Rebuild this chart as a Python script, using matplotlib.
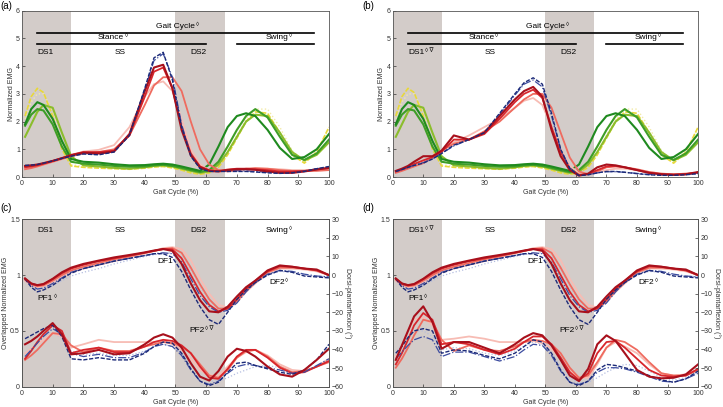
import matplotlib
matplotlib.use("Agg")
import matplotlib.pyplot as plt

plt.rcParams["font.family"] = ["Liberation Sans", "DejaVu Sans"]

# gait cycle sample positions (%)
gait = [1, 3, 5, 7, 10, 13, 16, 20, 25, 30, 35, 40, 43, 46, 49, 52, 55, 58, 61, 64,
        67, 70, 73, 76, 80, 84, 88, 92, 96, 100]

# (a)/(b) green group (same in both panels)
green_dark = [1.9, 2.45, 2.7, 2.6, 2.1, 1.3, 0.65, 0.55, 0.52, 0.46, 0.42, 0.43, 0.46, 0.48, 0.45,
              0.38, 0.3, 0.22, 0.45, 1.1, 1.8, 2.2, 2.3, 2.2, 1.7, 1.05, 0.65, 0.72, 1.0, 1.55]
green_mid = [1.85, 2.25, 2.45, 2.4, 1.9, 1.1, 0.55, 0.48, 0.45, 0.4, 0.37, 0.38, 0.42, 0.44, 0.4,
             0.33, 0.25, 0.18, 0.25, 0.55, 1.1, 1.7, 2.2, 2.45, 2.15, 1.45, 0.8, 0.62, 0.85, 1.35]
green_light = [1.45, 1.9, 2.35, 2.6, 2.5, 1.6, 0.75, 0.42, 0.38, 0.33, 0.3, 0.35, 0.4, 0.42, 0.38,
               0.3, 0.22, 0.15, 0.2, 0.45, 0.9, 1.45, 2.0, 2.25, 2.2, 1.6, 0.9, 0.6, 0.8, 1.25]
yellow = [2.2, 2.9, 3.2, 3.05, 2.2, 1.0, 0.4, 0.35, 0.32, 0.3, 0.28, 0.32, 0.36, 0.38, 0.33,
          0.25, 0.15, 0.1, 0.15, 0.35, 0.8, 1.4, 2.0, 2.35, 2.3, 1.6, 0.8, 0.5, 0.9, 1.8]
yellow_light = [2.1, 2.7, 3.0, 3.0, 2.4, 1.2, 0.45, 0.38, 0.35, 0.32, 0.3, 0.33, 0.37, 0.38, 0.34,
                0.26, 0.18, 0.12, 0.16, 0.4, 0.9, 1.5, 2.1, 2.45, 2.45, 1.8, 0.95, 0.55, 0.95, 1.75]

# (a) red/blue group
a_darkred = [0.4, 0.42, 0.45, 0.5, 0.58, 0.68, 0.78, 0.88, 0.85, 0.92, 1.55, 3.1, 3.95, 4.05, 3.2,
             1.7, 0.78, 0.35, 0.22, 0.2, 0.25, 0.28, 0.28, 0.26, 0.2, 0.15, 0.15, 0.2, 0.27, 0.33]
a_red = [0.35, 0.38, 0.42, 0.48, 0.58, 0.68, 0.8, 0.9, 0.9, 0.95, 1.5, 2.9, 3.8, 3.95, 3.2,
         1.8, 0.85, 0.38, 0.25, 0.22, 0.27, 0.3, 0.3, 0.28, 0.25, 0.2, 0.2, 0.22, 0.28, 0.32]
a_salmon = [0.28, 0.32, 0.38, 0.45, 0.55, 0.65, 0.75, 0.85, 0.9, 1.0, 1.5, 2.6, 3.3, 3.6, 3.6,
            3.1, 2.0, 1.0, 0.45, 0.25, 0.2, 0.25, 0.3, 0.32, 0.3, 0.25, 0.22, 0.22, 0.22, 0.25]
a_pink = [0.3, 0.33, 0.38, 0.45, 0.55, 0.65, 0.78, 0.92, 0.98, 1.15, 1.8, 2.9, 3.35, 3.45, 3.1,
          2.1, 1.0, 0.45, 0.25, 0.2, 0.22, 0.25, 0.28, 0.3, 0.3, 0.28, 0.25, 0.25, 0.25, 0.28]
a_navy = [0.42, 0.43, 0.45, 0.5, 0.58, 0.67, 0.75, 0.83, 0.8, 0.9, 1.5, 3.2, 4.3, 4.5, 3.5,
          1.8, 0.75, 0.3, 0.2, 0.2, 0.2, 0.2, 0.2, 0.18, 0.15, 0.13, 0.15, 0.2, 0.3, 0.38]
a_blue = [0.4, 0.42, 0.45, 0.5, 0.58, 0.67, 0.76, 0.85, 0.82, 0.92, 1.55, 3.15, 4.2, 4.45, 3.6,
          1.9, 0.8, 0.33, 0.22, 0.2, 0.22, 0.22, 0.22, 0.2, 0.17, 0.15, 0.16, 0.22, 0.3, 0.36]

# (b) red/blue group
b_darkred = [0.22, 0.3, 0.4, 0.55, 0.75, 0.75, 0.95, 1.5, 1.35, 1.6, 2.2, 2.8, 3.1, 3.25, 2.9,
             1.7, 0.75, 0.25, 0.05, 0.12, 0.35, 0.45, 0.42, 0.35, 0.25, 0.15, 0.1, 0.08, 0.1, 0.18]
b_red = [0.2, 0.27, 0.35, 0.47, 0.6, 0.72, 0.9, 1.35, 1.35, 1.55, 2.1, 2.7, 3.0, 3.15, 2.85,
         1.8, 0.9, 0.3, 0.08, 0.1, 0.25, 0.38, 0.4, 0.35, 0.25, 0.15, 0.1, 0.08, 0.1, 0.16]
b_salmon = [0.15, 0.22, 0.3, 0.38, 0.5, 0.7, 0.95, 1.2, 1.35, 1.65, 2.0, 2.5, 2.8, 3.0, 3.0,
            2.5, 1.6, 0.7, 0.2, 0.1, 0.2, 0.35, 0.38, 0.35, 0.28, 0.18, 0.12, 0.1, 0.12, 0.15]
b_pink = [0.18, 0.26, 0.35, 0.43, 0.55, 0.75, 0.95, 1.25, 1.5, 1.8, 2.1, 2.5, 2.75, 2.85, 2.6,
          1.8, 1.0, 0.4, 0.15, 0.1, 0.15, 0.25, 0.3, 0.3, 0.25, 0.18, 0.12, 0.1, 0.12, 0.15]
b_navy = [0.2, 0.27, 0.35, 0.42, 0.5, 0.65, 0.85, 1.15, 1.35, 1.6, 2.3, 3.0, 3.4, 3.58, 3.35,
          2.3, 1.0, 0.3, 0.05, 0.08, 0.15, 0.2, 0.2, 0.17, 0.12, 0.08, 0.06, 0.06, 0.08, 0.12]
b_blue = [0.2, 0.27, 0.35, 0.42, 0.52, 0.65, 0.85, 1.12, 1.35, 1.6, 2.25, 2.95, 3.35, 3.5, 3.25,
          2.2, 1.0, 0.32, 0.06, 0.08, 0.15, 0.19, 0.19, 0.17, 0.13, 0.09, 0.07, 0.07, 0.09, 0.13]

# (c)/(d) ankle angle (deg, right axis) - same in both panels
ang_darkred = [-1.8, -4.5, -5.4, -4.8, -2.0, 1.5, 4.0, 6.0, 7.8, 9.5, 10.8, 12.2, 13.2, 14.0, 13.0,
               6.0, -4.5, -13.5, -19.5, -20.0, -17.0, -11.5, -6.5, -3.0, 2.5, 5.2, 4.5, 3.5, 3.0, 0.0]
ang_red = [-2.0, -4.5, -5.5, -5.0, -2.2, 1.0, 3.5, 5.5, 7.5, 9.0, 10.5, 12.0, 13.0, 14.0, 13.8,
           9.0, 0.0, -9.0, -16.0, -19.5, -18.0, -13.0, -7.5, -3.0, 2.0, 4.8, 4.5, 3.5, 2.5, 0.0]
ang_salmon = [-2.5, -5.0, -6.0, -5.5, -3.0, 0.0, 2.5, 4.5, 6.5, 8.5, 10.0, 12.0, 13.0, 14.0, 14.5,
              12.0, 4.0, -5.0, -13.0, -18.0, -18.0, -14.0, -8.5, -4.0, 1.5, 4.0, 4.0, 3.5, 2.5, 0.0]
ang_pink = [-3.0, -5.5, -6.5, -6.0, -4.0, -1.0, 1.5, 3.5, 5.5, 7.5, 9.5, 11.5, 13.0, 14.5, 15.0,
            14.0, 8.0, -2.0, -10.0, -16.0, -17.5, -14.5, -9.0, -4.5, 1.0, 3.5, 3.5, 3.0, 2.0, 0.0]
ang_navy = [-2.0, -6.5, -9.0, -8.0, -5.5, -2.0, 1.0, 3.5, 5.5, 7.5, 9.0, 10.5, 11.5, 11.5, 9.5,
            2.0, -8.0, -17.0, -24.0, -26.5, -20.0, -13.0, -8.0, -4.0, 0.0, 2.5, 1.5, -0.5, -1.0, -1.5]
ang_blue = [-2.0, -5.5, -7.5, -7.0, -4.5, -1.5, 1.5, 3.5, 5.5, 7.5, 9.0, 10.5, 11.5, 12.0, 11.5,
            7.0, -2.0, -11.0, -17.0, -20.0, -19.0, -15.0, -9.0, -4.0, 0.5, 2.5, 2.0, 0.5, -0.5, -1.0]
ang_lightblue = [-2.0, -5.0, -7.0, -7.0, -5.5, -3.0, -0.5, 1.5, 3.5, 6.0, 8.0, 10.0, 11.0, 11.5, 12.0,
                 10.0, 3.0, -6.0, -14.0, -18.0, -18.0, -14.0, -8.5, -4.0, 0.0, 2.0, 1.5, 0.0, -0.5, -1.0]

# (c) overlapped EMG
c_darkred = [0.38, 0.41, 0.45, 0.5, 0.57, 0.47, 0.29, 0.3, 0.33, 0.29, 0.3, 0.38, 0.44, 0.47, 0.44,
             0.35, 0.21, 0.09, 0.055, 0.14, 0.27, 0.34, 0.32, 0.27, 0.18, 0.11, 0.09, 0.15, 0.24, 0.34]
c_red = [0.25, 0.32, 0.4, 0.47, 0.55, 0.5, 0.3, 0.33, 0.35, 0.31, 0.31, 0.36, 0.4, 0.42, 0.41,
         0.37, 0.3, 0.18, 0.08, 0.07, 0.16, 0.27, 0.33, 0.33, 0.26, 0.17, 0.12, 0.13, 0.18, 0.23]
c_salmon = [0.24, 0.28, 0.33, 0.39, 0.48, 0.47, 0.37, 0.31, 0.35, 0.32, 0.32, 0.36, 0.38, 0.4, 0.39,
            0.36, 0.3, 0.2, 0.1, 0.08, 0.15, 0.26, 0.32, 0.33, 0.27, 0.18, 0.13, 0.14, 0.18, 0.22]
c_pink = [0.3, 0.34, 0.38, 0.42, 0.48, 0.45, 0.35, 0.38, 0.42, 0.4, 0.4, 0.4, 0.4, 0.41, 0.38,
          0.33, 0.25, 0.15, 0.1, 0.1, 0.18, 0.26, 0.31, 0.33, 0.28, 0.2, 0.15, 0.14, 0.18, 0.25]
c_navy = [0.43, 0.46, 0.49, 0.52, 0.55, 0.45, 0.25, 0.24, 0.26, 0.24, 0.24, 0.3, 0.36, 0.4, 0.39,
          0.3, 0.16, 0.05, 0.01, 0.04, 0.13, 0.21, 0.22, 0.19, 0.16, 0.13, 0.11, 0.15, 0.24, 0.38]
c_blue = [0.27, 0.33, 0.39, 0.45, 0.52, 0.47, 0.3, 0.27, 0.29, 0.26, 0.26, 0.31, 0.36, 0.38, 0.36,
          0.28, 0.15, 0.05, 0.02, 0.05, 0.12, 0.18, 0.2, 0.19, 0.17, 0.15, 0.12, 0.13, 0.19, 0.25]
c_lightblue = [0.3, 0.34, 0.38, 0.42, 0.48, 0.44, 0.32, 0.29, 0.3, 0.28, 0.28, 0.32, 0.36, 0.38, 0.36,
               0.3, 0.2, 0.1, 0.05, 0.05, 0.08, 0.12, 0.15, 0.18, 0.19, 0.17, 0.14, 0.14, 0.18, 0.24]

# (d) overlapped EMG
d_darkred = [0.24, 0.37, 0.5, 0.63, 0.72, 0.58, 0.34, 0.4, 0.4, 0.35, 0.3, 0.38, 0.44, 0.48, 0.46,
             0.37, 0.24, 0.1, 0.05, 0.16, 0.38, 0.46, 0.41, 0.3, 0.15, 0.09, 0.075, 0.08, 0.11, 0.2]
d_red = [0.2, 0.3, 0.42, 0.55, 0.66, 0.6, 0.38, 0.4, 0.38, 0.33, 0.29, 0.34, 0.4, 0.45, 0.45,
         0.38, 0.26, 0.13, 0.06, 0.12, 0.3, 0.4, 0.41, 0.35, 0.25, 0.15, 0.1, 0.09, 0.1, 0.16]
d_salmon = [0.17, 0.25, 0.35, 0.46, 0.6, 0.58, 0.42, 0.32, 0.37, 0.33, 0.32, 0.36, 0.4, 0.42, 0.41,
            0.38, 0.3, 0.17, 0.08, 0.1, 0.22, 0.35, 0.42, 0.4, 0.33, 0.22, 0.12, 0.1, 0.1, 0.15]
d_pink = [0.27, 0.37, 0.5, 0.6, 0.62, 0.55, 0.42, 0.43, 0.45, 0.43, 0.4, 0.4, 0.4, 0.41, 0.39,
          0.34, 0.25, 0.14, 0.08, 0.08, 0.2, 0.35, 0.4, 0.36, 0.3, 0.2, 0.12, 0.1, 0.11, 0.15]
d_navy = [0.3, 0.36, 0.44, 0.5, 0.52, 0.5, 0.3, 0.33, 0.32, 0.28, 0.25, 0.3, 0.36, 0.42, 0.4,
          0.3, 0.15, 0.04, 0.01, 0.05, 0.15, 0.2, 0.19, 0.17, 0.14, 0.1, 0.06, 0.04, 0.07, 0.14]
d_blue = [0.25, 0.31, 0.37, 0.42, 0.45, 0.42, 0.27, 0.31, 0.31, 0.27, 0.23, 0.27, 0.33, 0.38, 0.37,
          0.28, 0.14, 0.04, 0.02, 0.05, 0.13, 0.17, 0.17, 0.16, 0.13, 0.09, 0.05, 0.04, 0.07, 0.12]
d_lightblue = [0.3, 0.38, 0.45, 0.5, 0.5, 0.45, 0.33, 0.35, 0.34, 0.3, 0.28, 0.32, 0.36, 0.4, 0.38,
               0.3, 0.18, 0.08, 0.03, 0.04, 0.08, 0.13, 0.17, 0.2, 0.19, 0.14, 0.08, 0.06, 0.08, 0.13]

double_support = [(0, 16), (50, 66)]

SHADE = "#d3ccc9"
STY = {
    "darkred": dict(color="#a8101c", lw=1.5, ls="-"),
    "red": dict(color="#d8262c", lw=1.3, ls="-"),
    "salmon": dict(color="#ef6b5f", lw=1.3, ls="-"),
    "pink": dict(color="#f7bcb4", lw=1.3, ls="-"),
    "navy": dict(color="#1c2a78", lw=1.0, ls=(0, (3, 1.2))),
    "blue": dict(color="#3c4ca0", lw=0.9, ls="-."),
    "lightblue": dict(color="#b4bde0", lw=0.9, ls=":"),
    "gdark": dict(color="#1f8a1f", lw=1.5, ls="-"),
    "gmid": dict(color="#3e9e27", lw=1.5, ls="-"),
    "glight": dict(color="#8bbd2c", lw=1.5, ls="-"),
    "yellow": dict(color="#e8d83a", lw=1.2, ls=(0, (3, 1))),
    "ylight": dict(color="#f2eaa6", lw=1.0, ls=":"),
}

DIA = "\u25CA"
DIA_NAB = "\u25CA\u2009\u2207"
FS = 6
TFS = 5
GREY = "#333333"


def label(ax, x, y, main, sup=None, ha="center", va="center"):
    t = ax.text(x, y, main, fontsize=FS, ha=ha, va=va)
    if sup:
        ax.annotate(sup, xy=(1, 1), xycoords=t, xytext=(0.6, 0.8),
                    textcoords="offset points", fontsize=4.5, ha="left", va="top")


def style_axis(ax):
    for sp in ax.spines.values():
        sp.set_color("#555555")
        sp.set_linewidth(0.6)
    ax.tick_params(direction="in", length=2, width=0.5, labelsize=TFS, pad=1.5, colors=GREY)
    ax.tick_params(axis="x", pad=2.5)
    ax.set_xlim(0, 100)
    ax.set_xticks(range(0, 101, 10))
    ax.set_xlabel("Gait Cycle (%)", fontsize=TFS, labelpad=1, color=GREY)
    for lo, hi in double_support:
        ax.axvspan(lo, hi, color=SHADE, lw=0, zorder=0)


def draw(ax, series):
    for vals, key in series:
        ax.plot(gait, vals, **STY[key])


fig = plt.figure(figsize=(7.23, 4.07), dpi=100)
ax_a = fig.add_axes([0.0304, 0.5651, 0.4246, 0.4086])
ax_b = fig.add_axes([0.5432, 0.5651, 0.4223, 0.4086])
ax_c = fig.add_axes([0.0304, 0.0499, 0.4246, 0.4113])
ax_d = fig.add_axes([0.5432, 0.0499, 0.4223, 0.4113])

greens = [(yellow_light, "ylight"), (yellow, "yellow"), (green_light, "glight"),
          (green_mid, "gmid"), (green_dark, "gdark")]

for ax, reds, ds1_sup in [
    (ax_a, [a_pink, a_salmon, a_red, a_blue, a_darkred, a_navy], None),
    (ax_b, [b_pink, b_salmon, b_red, b_blue, b_darkred, b_navy], DIA_NAB),
]:
    style_axis(ax)
    draw(ax, greens)
    draw(ax, zip(reds, ["pink", "salmon", "red", "blue", "darkred", "navy"]))
    ax.set_ylim(0, 6)
    ax.set_yticks(range(0, 7))
    ax.set_ylabel("Normalized EMG", fontsize=TFS, labelpad=1, color=GREY)
    ax.plot([5, 95], [5.2, 5.2], color="black", lw=1.2)
    ax.plot([5, 60], [4.8, 4.8], color="black", lw=1.2)
    ax.plot([70, 95], [4.8, 4.8], color="black", lw=1.2)
    label(ax, 50, 5.3, "Gait Cycle", DIA, va="bottom")
    label(ax, 29, 4.9, "Stance", DIA, va="bottom")
    label(ax, 83, 4.9, "Swing", DIA, va="bottom")
    label(ax, 5, 4.5, "DS1", ds1_sup, ha="left")
    label(ax, 32, 4.5, "SS")
    label(ax, 57.5, 4.5, "DS2")

angles = [(ang_lightblue, "lightblue"), (ang_pink, "pink"), (ang_salmon, "salmon"),
          (ang_red, "red"), (ang_blue, "blue"), (ang_navy, "navy"), (ang_darkred, "darkred")]

for ax, emg, ds1_sup in [
    (ax_c, [c_lightblue, c_pink, c_salmon, c_red, c_blue, c_navy, c_darkred], None),
    (ax_d, [d_lightblue, d_pink, d_salmon, d_red, d_blue, d_navy, d_darkred], DIA_NAB),
]:
    style_axis(ax)
    draw(ax, zip(emg, ["lightblue", "pink", "salmon", "red", "blue", "navy", "darkred"]))
    ax.set_ylim(0, 1.5)
    ax.set_yticks([0, 0.5, 1, 1.5])
    ax.set_yticklabels(["0", "0.5", "1", "1.5"])
    ax.set_ylabel("Overlapped Normalized EMG", fontsize=TFS, labelpad=1, color=GREY)
    ax2 = ax.twinx()
    draw(ax2, angles)
    ax2.set_ylim(-60, 30)
    ax2.set_yticks(range(-60, 31, 10))
    ax2.tick_params(direction="in", length=2, width=0.5, labelsize=TFS, pad=2, colors=GREY)
    for sp in ax2.spines.values():
        sp.set_color("#555555")
        sp.set_linewidth(0.6)
    ax2.set_ylabel("Dorsi-plantarflexion (\u00b0)", fontsize=TFS, rotation=270,
                   labelpad=6, color=GREY)
    label(ax, 5, 1.40, "DS1", ds1_sup, ha="left")
    label(ax, 32, 1.40, "SS")
    label(ax, 57.5, 1.40, "DS2")
    label(ax, 83, 1.40, "Swing", DIA)
    label(ax, 46.7, 1.12, "DF1")
    label(ax, 5, 0.79, "PF1", DIA, ha="left")
    label(ax, 83, 0.93, "DF2", DIA)
    label(ax, 54.5, 0.50, "PF2", DIA_NAB, ha="left")

fig.text(0.001, 0.998, "(a)", fontsize=7, ha="left", va="top")
fig.text(0.5007, 0.998, "(b)", fontsize=7, ha="left", va="top")
fig.text(0.001, 0.502, "(c)", fontsize=7, ha="left", va="top")
fig.text(0.5007, 0.502, "(d)", fontsize=7, ha="left", va="top")

fig.savefig("out.png", dpi=100)
